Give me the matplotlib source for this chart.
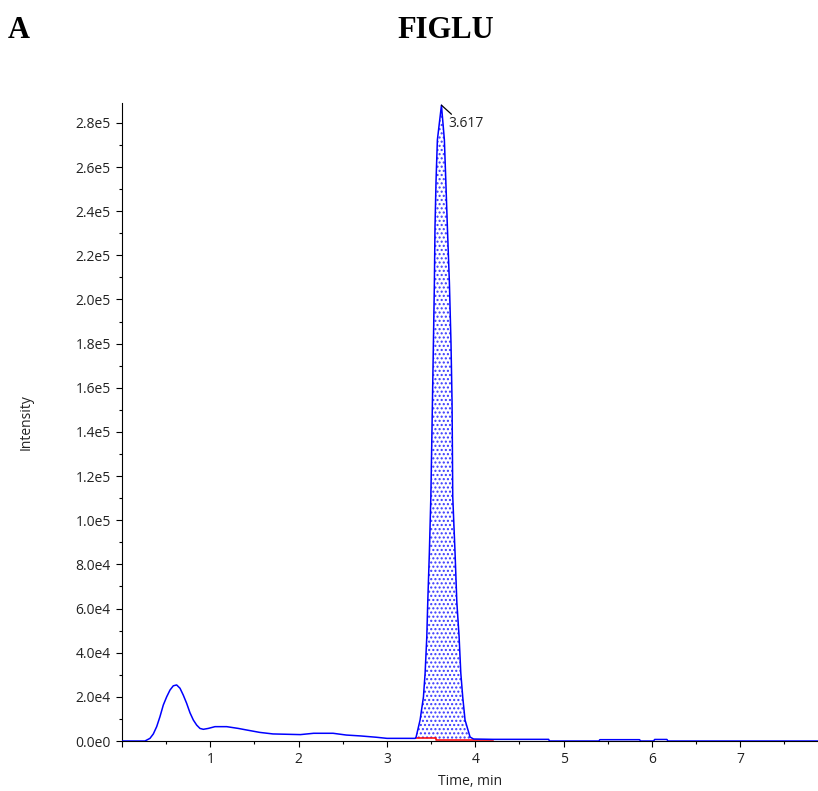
import numpy as np
import matplotlib
matplotlib.use("Agg")
import matplotlib.pyplot as plt
from matplotlib.ticker import MultipleLocator, FuncFormatter

# chromatogram trace (time in min, intensity in cps)
time = [0.00, 0.26, 0.317, 0.355, 0.393, 0.430, 0.468, 0.506, 0.544, 0.581,
        0.619, 0.657, 0.694, 0.732, 0.770, 0.808, 0.846, 0.883, 0.921, 0.977,
        1.053, 1.186, 1.317, 1.41, 1.56, 1.71, 2.02, 2.17, 2.39, 2.54,
        2.70, 2.88, 3.00, 3.32,
        3.330, 3.375, 3.413, 3.432, 3.451, 3.462, 3.480, 3.497, 3.515, 3.526,
        3.537, 3.544, 3.556, 3.571, 3.617, 3.650, 3.666, 3.684, 3.707, 3.725,
        3.737, 3.745, 3.771, 3.791, 3.817, 3.836, 3.858, 3.884, 3.941, 3.98,
        4.20, 4.83, 4.84, 5.40, 5.41, 5.86, 5.87, 6.02, 6.03, 6.17, 6.18, 7.88]
intensity = [0, 0, 1200, 3200, 6500, 11000, 16300, 20000, 23100, 25000,
             25400, 23900, 20800, 17100, 12800, 9500, 7200, 5700, 5300, 5700,
             6500, 6500, 5700, 5000, 3900, 3200, 2900, 3500, 3500, 2700,
             2300, 1700, 1200, 1200,
             1800, 9500, 19900, 30800, 47100, 63000, 85200, 110600, 153600, 180300,
             207500, 232900, 254200, 272300, 288000, 272300, 254200, 232900, 207500, 180300,
             153600, 110600, 85200, 63000, 47100, 30800, 19900, 9500, 1800, 900,
             750, 750, 0, 0, 600, 600, 0, 0, 700, 700, 0, 0]

# integration baseline of the FIGLU peak
base_time = [3.33, 3.56, 3.56, 4.20]
base_int = [1200, 1200, 500, 500]

peak_rt = 3.617
peak_height = 288000
peak_start, peak_end = 3.33, 3.98

time = np.array(time)
intensity = np.array(intensity)

fig = plt.figure(figsize=(8.18, 7.91), dpi=100)
ax = fig.add_axes([0.1491, 0.0632, 0.8509, 0.8066])

# shaded peak area
sel = (time >= peak_start) & (time <= peak_end)
t_fill = time[sel]
b_fill = np.interp(t_fill, base_time, base_int)
ax.fill_between(t_fill, intensity[sel], b_fill, facecolor="white",
                edgecolor="#3a3aff", hatch="....", linewidth=0, zorder=1)

ax.plot(base_time, base_int, color="red", lw=1.1, zorder=2)
ax.plot(time, intensity, color="blue", lw=1.1, zorder=3)

# retention time label
ax.annotate("", xy=(peak_rt, peak_height), xytext=(7.2, -6.5),
            textcoords="offset points",
            arrowprops=dict(arrowstyle="-", color="black", lw=0.9,
                            shrinkA=0, shrinkB=0))
ax.annotate("3.617", xy=(peak_rt, peak_height), xytext=(5, -8),
            textcoords="offset points", ha="left", va="top",
            fontsize=10, family="Open Sans", color="#222222")

ax.set_xlim(0, 7.88)
ax.set_ylim(0, 2.89e5)

ax.xaxis.set_major_locator(MultipleLocator(1))
ax.xaxis.set_minor_locator(MultipleLocator(0.5))
ax.yaxis.set_major_locator(MultipleLocator(2e4))
ax.yaxis.set_minor_locator(MultipleLocator(1e4))


def sci_fmt(v, pos):
    if v == 0:
        return "0.0e0"
    exp = int(np.floor(np.log10(abs(v))))
    return "%.1fe%d" % (v / 10 ** exp, exp)


ax.yaxis.set_major_formatter(FuncFormatter(sci_fmt))
ax.xaxis.set_major_formatter(FuncFormatter(lambda v, p: "" if v == 0 else "%d" % v))

ax.tick_params(which="major", length=4, width=0.8, labelsize=10, pad=4,
               labelcolor="#222222")
ax.tick_params(which="minor", length=2, width=0.8)
for lbl in ax.get_xticklabels() + ax.get_yticklabels():
    lbl.set_family("Open Sans")

for s in ["top", "right"]:
    ax.spines[s].set_visible(False)
ax.spines["left"].set_linewidth(0.8)
ax.spines["bottom"].set_linewidth(0.8)

ax.set_xlabel("Time, min", fontsize=10, family="Open Sans", color="#222222",
              labelpad=5)
ax.set_ylabel("Intensity", fontsize=10, family="Open Sans", color="#222222",
              labelpad=30)

fig.text(0.010, 0.962, "A", fontsize=22, fontweight="bold",
         family="Liberation Serif", va="center", ha="left")
fig.text(0.545, 0.962, "FIGLU", fontsize=22, fontweight="bold",
         family="Liberation Serif", va="center", ha="center")

fig.savefig("out.png", dpi=100)
